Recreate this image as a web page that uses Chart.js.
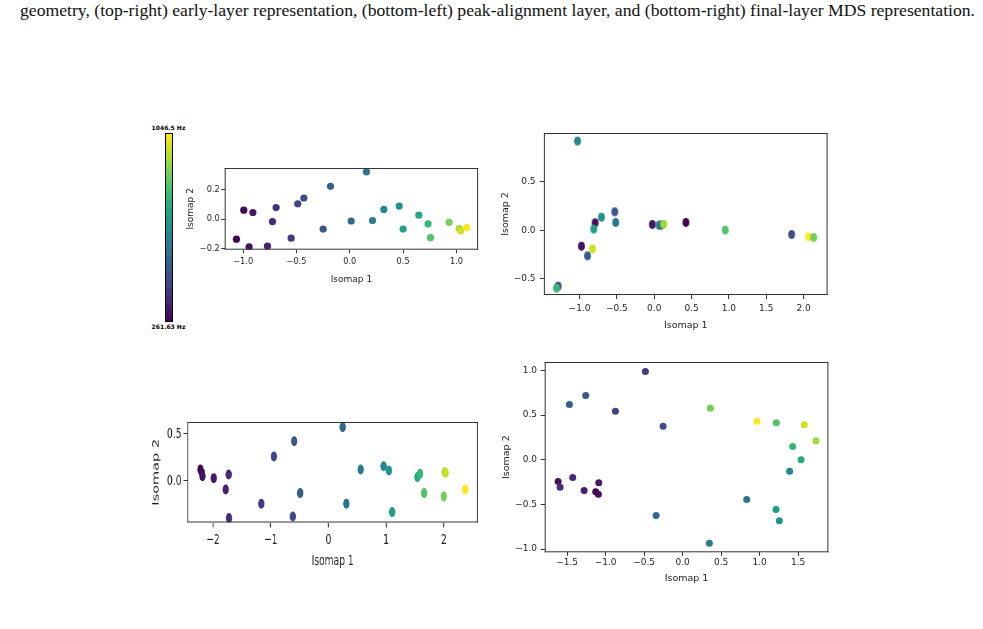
<!DOCTYPE html>
<html><head><meta charset="utf-8">
<script src="https://cdn.jsdelivr.net/npm/chart.js@4.4.1/dist/chart.umd.min.js"></script>
<style>
html,body{margin:0;padding:0;background:#fff;width:983px;height:629px;overflow:hidden;position:relative;}
.abs{position:absolute;}
#caption{position:absolute;left:20px;top:1px;font-family:'Liberation Serif','Times New Roman',serif;font-size:17px;white-space:nowrap;transform-origin:0 0;color:#111;line-height:20px;}
#cbar{position:absolute;left:165px;top:133px;width:6px;height:187px;border:1px solid #000;}
.cbl{position:absolute;font-family:'DejaVu Sans',sans-serif;font-weight:bold;font-size:6px;line-height:6px;white-space:nowrap;transform:translate(-50%,-50%);color:#000;}
</style>
</head><body>
<div id="caption"></div>
<div id="cbar"></div>
<div class="cbl" id="cbTop"></div>
<div class="cbl" id="cbBot"></div>
<script>
// ---------------- data ----------------
const CAPTION = 'geometry, (top-right) early-layer representation, (bottom-left) peak-alignment layer, and (bottom-right) final-layer MDS representation.';
const NOTE_HZ = [261.63,277.18,293.66,311.13,329.63,349.23,369.99,392.00,415.30,440.00,466.16,493.88,523.25,554.37,587.33,622.25,659.25,698.46,739.99,783.99,830.61,880.00,932.33,987.77,1046.50];
const CBAR_LABELS = ['1046.5 Hz','261.63 Hz'];
const X_LABEL = 'Isomap 1';
const Y_LABEL = 'Isomap 2';

// top-left
const TL_X = [-1.063,-0.994,-0.944,-0.909,-0.772,-0.725,-0.691,-0.550,-0.488,-0.431,-0.250,-0.181,0.013,0.156,0.213,0.319,0.463,0.500,0.647,0.734,0.756,0.931,1.025,1.040,1.097];
const TL_Y = [-0.136,0.062,-0.189,0.046,-0.184,-0.016,0.080,-0.129,0.106,0.145,-0.067,0.225,-0.012,0.324,-0.009,0.067,0.090,-0.067,0.028,-0.032,-0.126,-0.021,-0.064,-0.078,-0.057];
const TL_NOTE = [0,1,2,3,4,5,6,7,8,9,10,11,12,13,14,15,16,17,18,19,20,21,22,23,24];
const TL_XTICKS = [-1.0,-0.5,0.0,0.5,1.0];
const TL_YTICKS = [-0.2,0.0,0.2];

// top-right
const TR_X = [0.425,-0.791,-0.974,-0.025,0.090,-1.286,1.841,-0.528,-0.893,-0.515,0.064,-1.027,-0.706,-0.809,-1.308,0.951,0.127,-0.827,2.069,2.136];
const TR_Y = [0.079,0.075,-0.165,0.058,0.052,-0.576,-0.045,0.188,-0.264,0.079,0.051,0.915,0.133,0.010,-0.596,0.000,0.061,-0.192,-0.069,-0.076];
const TR_NOTE = [0,1,2,3,4,8,9,10,11,13,14,15,16,17,19,20,22,23,24,21];
const TR_XTICKS = [-1.0,-0.5,0.0,0.5,1.0,1.5,2.0];
const TR_YTICKS = [-0.5,0.0,0.5];

// bottom-left
const BL_X = [-2.216,-2.193,-2.181,-1.986,-1.779,-1.727,-1.722,-1.162,-0.944,-0.616,-0.592,-0.489,0.247,0.311,0.559,0.956,1.048,1.105,1.543,1.589,1.658,1.998,2.015,2.032,2.371];
const BL_Y = [0.121,0.085,0.049,0.028,-0.093,0.067,-0.399,-0.246,0.260,-0.381,0.423,-0.132,0.573,-0.246,0.121,0.156,0.110,-0.335,0.039,0.075,-0.132,-0.168,0.092,0.085,-0.093];
const BL_NOTE = [0,1,2,3,4,5,6,7,8,9,10,11,12,13,14,15,16,17,18,19,20,21,22,23,24];
const BL_XTICKS = [-2,-1,0,1,2];
const BL_YTICKS = [0.0,0.5];

// bottom-right
const BR_X = [-1.128,-1.094,-1.617,-1.089,-1.279,-1.427,-1.591,-0.483,-0.873,-0.253,-1.258,-1.470,-0.344,0.833,0.348,1.391,1.257,1.214,1.539,1.430,1.218,0.361,1.733,1.582,0.967];
const BR_Y = [-0.358,-0.385,-0.243,-0.258,-0.344,-0.198,-0.307,0.989,0.544,0.376,0.720,0.619,-0.624,-0.445,-0.934,-0.127,-0.683,-0.557,0.000,0.149,0.414,0.578,0.213,0.392,0.432];
const BR_NOTE = [0,1,2,3,4,5,6,7,8,9,10,11,12,13,14,15,16,17,18,19,20,21,22,23,24];
const BR_XTICKS = [-1.5,-1.0,-0.5,0.0,0.5,1.0,1.5];
const BR_YTICKS = [-1.0,-0.5,0.0,0.5,1.0];

// ---------------- colour map (viridis) ----------------
const VIRIDIS = ['#440154','#471365','#482475','#463480','#414487','#3b528b','#355f8d','#2f6c8e','#2a788e','#25848e','#21918c','#1e9c89','#22a884','#2fb47c','#44bf70','#5ec962','#7ad151','#9bd93c','#bddf26','#dfe318','#fde725'];
function hexRgb(h){return [parseInt(h.slice(1,3),16),parseInt(h.slice(3,5),16),parseInt(h.slice(5,7),16)];}
function viridis(t){
  t=Math.max(0,Math.min(1,t));
  const n=VIRIDIS.length-1, f=t*n, i=Math.min(Math.floor(f),n-1), u=f-i;
  const a=hexRgb(VIRIDIS[i]), b=hexRgb(VIRIDIS[i+1]);
  return 'rgb('+a.map((v,k)=>Math.round(v+(b[k]-v)*u)).join(',')+')';
}
const HZ_MIN = NOTE_HZ[0], HZ_MAX = NOTE_HZ[NOTE_HZ.length-1];
function noteColor(n){return viridis((NOTE_HZ[n]-HZ_MIN)/(HZ_MAX-HZ_MIN));}

// caption
const cap=document.getElementById('caption');
cap.textContent=CAPTION;
const cw=cap.getBoundingClientRect().width;
cap.style.transform='scaleX('+(955/cw)+')';

// colorbar
document.getElementById('cbar').style.background='linear-gradient(to top,'+VIRIDIS.join(',')+')';
const cbT=document.getElementById('cbTop'), cbB=document.getElementById('cbBot');
cbT.textContent=CBAR_LABELS[0]; cbT.style.left='168.5px'; cbT.style.top='127.5px';
cbB.textContent=CBAR_LABELS[1]; cbB.style.left='168.5px'; cbB.style.top='327px';

// ---------------- panels ----------------
function ellipseImg(color,rx,ry){
  const c=document.createElement('canvas');
  const w=Math.ceil(rx*2)+2,h=Math.ceil(ry*2)+2;
  c.width=w;c.height=h;
  const g=c.getContext('2d');
  g.fillStyle=color;g.beginPath();g.ellipse(w/2,h/2,rx,ry,0,0,Math.PI*2);g.fill();
  return c;
}
function fmt(dec){return v=>(v<0?'\u2212':'')+Math.abs(v).toFixed(dec);}

const FONT='"DejaVu Sans", sans-serif';
// layout: box = plot frame in page px; yTitleX/xTitleY = axis-title centres; xTickY = x tick label centre; yTickR = right end of y tick labels
const PANELS=[
 {X:TL_X,Y:TL_Y,N:TL_NOTE,xt:TL_XTICKS,yt:TL_YTICKS,xdec:1,ydec:1,
  box:{l:224.3,t:168.3,r:477.7,b:250},xr:[-1.173,1.203],yr:[-0.208,0.350],
  sx:1,yTitleX:190,xTitleY:279.5,xTickY:262,yTickR:219.3,tickFont:8.2,titleFont:9,xTl:3.5,yTl:3.5,rx:3.6,ry:3.6},
 {X:TR_X,Y:TR_Y,N:TR_NOTE,xt:TR_XTICKS,yt:TR_YTICKS,xdec:1,ydec:1,
  box:{l:544,t:132.5,r:828.3,b:294.5},xr:[-1.477,2.322],yr:[-0.666,0.998],
  sx:1,yTitleX:505.8,xTitleY:325.5,xTickY:308.3,yTickR:535.7,tickFont:9,titleFont:9.5,xTl:4,yTl:4,rx:3.4,ry:4.4,ellipse:true},
 {X:BL_X,Y:BL_Y,N:BL_NOTE,xt:BL_XTICKS,yt:BL_YTICKS,xdec:0,ydec:1,
  box:{l:187.5,t:421.5,r:479,b:522},xr:[-2.444,2.591],yr:[-0.446,0.628],
  sx:0.63,yTitleX:156.7,xTitleY:561,xTickY:539.7,yTickR:181.7,tickFont:14.5,titleFont:14.5,xTl:5,yTl:6,rx:5,ry:5},
 {X:BR_X,Y:BR_Y,N:BR_NOTE,xt:BR_XTICKS,yt:BR_YTICKS,xdec:1,ydec:1,
  box:{l:544.3,t:361.5,r:828,b:551.8},xr:[-1.791,1.894],yr:[-1.036,1.095],
  sx:1,yTitleX:506.3,xTitleY:578.5,xTickY:561.7,yTickR:536.7,tickFont:9,titleFont:9.5,xTl:3.5,yTl:4,rx:3.5,ry:3.5}
];

const framePlugin={id:'frame',afterDraw(c,args,opts){
  const a=c.chartArea,g=c.ctx,sx=opts.sx||1;
  g.save();g.strokeStyle='#333';
  g.lineWidth=1;
  g.beginPath();g.moveTo(a.left,a.top+0.5);g.lineTo(a.right,a.top+0.5);
  g.moveTo(a.left,a.bottom-0.5);g.lineTo(a.right,a.bottom-0.5);g.stroke();
  g.lineWidth=1/sx;
  g.beginPath();g.moveTo(a.left+0.5/sx,a.top);g.lineTo(a.left+0.5/sx,a.bottom);
  g.moveTo(a.right-0.5/sx,a.top);g.lineTo(a.right-0.5/sx,a.bottom);g.stroke();
  g.restore();
}};

PANELS.forEach(p=>{
  const padT=20;
  const tlh=p.titleFont*1.2/2, klh=p.tickFont*1.2/2;
  const yW=(p.box.l-p.yTitleX)/p.sx+tlh;
  const xH=p.xTitleY+tlh-p.box.b;
  const xPad=Math.max(0,p.xTickY-klh-p.box.b-p.xTl);
  const yPad=Math.max(0,(p.box.l-p.yTickR)/p.sx-p.yTl);
  const bw=(p.box.r-p.box.l)/p.sx, bh=p.box.b-p.box.t;
  const W=Math.ceil(yW+bw+3), H=Math.ceil(padT+bh+xH);
  const padR=W-yW-bw, padB=H-padT-bh-xH;
  const wrap=document.createElement('div');
  wrap.className='abs';
  wrap.style.width=W+'px';wrap.style.height=H+'px';
  wrap.style.left=(p.box.l-yW*p.sx)+'px';wrap.style.top=(p.box.t-padT)+'px';
  if(p.sx!==1){wrap.style.transform='scaleX('+p.sx+')';wrap.style.transformOrigin='0 0';}
  const cv=document.createElement('canvas');cv.width=W;cv.height=H;
  cv.style.width=W+'px';cv.style.height=H+'px';
  wrap.appendChild(cv);document.body.appendChild(wrap);
  const colors=p.N.map(noteColor);
  const ds={data:p.X.map((x,i)=>({x:x,y:p.Y[i]})),showLine:false,
    pointBackgroundColor:colors,pointBorderColor:colors,pointBorderWidth:0,
    pointRadius:Math.max(p.rx,p.ry),pointHoverRadius:Math.max(p.rx,p.ry)};
  if(p.ellipse){ds.pointStyle=colors.map(c=>ellipseImg(c,p.rx,p.ry));}
  else{ds.pointStyle='circle';}
  const tickColor='#1e1e1e';
  const chart=new Chart(cv,{type:'scatter',data:{datasets:[ds]},
    options:{responsive:false,animation:false,devicePixelRatio:1,events:[],
      layout:{padding:{top:padT,right:padR,left:0,bottom:padB}},
      plugins:{legend:{display:false},tooltip:{enabled:false},frame:{sx:p.sx}},
      scales:{
        x:{type:'linear',position:'bottom',min:p.xr[0],max:p.xr[1],
          afterBuildTicks:s=>{s.ticks=p.xt.map(v=>({value:v}));},
          afterFit:s=>{s.height=xH;},
          ticks:{font:{family:FONT,size:p.tickFont},color:tickColor,padding:xPad,maxRotation:0,autoSkip:false,callback:fmt(p.xdec)},
          grid:{display:true,drawOnChartArea:false,drawTicks:true,tickLength:p.xTl,tickColor:'#333',tickWidth:1/p.sx},
          border:{display:false},
          title:{display:true,text:X_LABEL,font:{family:FONT,size:p.titleFont},color:tickColor,padding:0}},
        y:{type:'linear',position:'left',min:p.yr[0],max:p.yr[1],
          afterBuildTicks:s=>{s.ticks=p.yt.map(v=>({value:v}));},
          afterFit:s=>{s.width=yW;},
          ticks:{font:{family:FONT,size:p.tickFont},color:tickColor,padding:yPad,autoSkip:false,callback:fmt(p.ydec)},
          grid:{display:true,drawOnChartArea:false,drawTicks:true,tickLength:p.yTl,tickColor:'#333',tickWidth:1},
          border:{display:false},
          title:{display:true,text:Y_LABEL,font:{family:FONT,size:p.titleFont},color:tickColor,padding:0}}
      }},
    plugins:[framePlugin]});
  const ca=chart.chartArea;
  wrap.style.left=(p.box.l-ca.left*p.sx)+'px';
  wrap.style.top=(p.box.t-ca.top)+'px';
});
</script>
</body></html>
